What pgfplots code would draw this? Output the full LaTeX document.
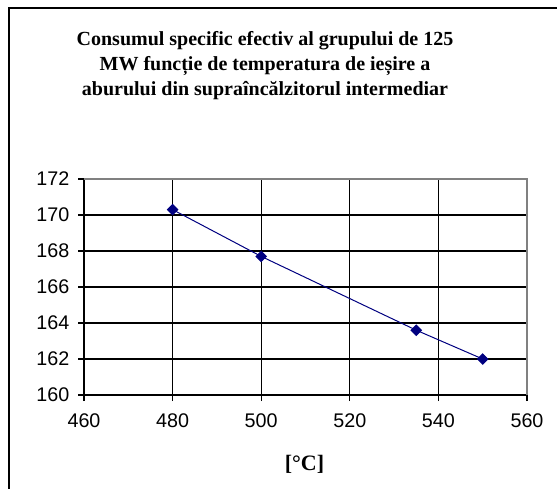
\documentclass[border=0pt]{standalone}
\usepackage{pgfplots}
\pgfplotsset{compat=1.18}
\usepackage{fontspec}
\setmainfont{Liberation Sans}
\newfontfamily\titlefont{Liberation Serif}
\newfontfamily\labelfont{Liberation Serif}
\definecolor{navy}{RGB}{0,0,128}
\begin{document}
\begin{tikzpicture}
\useasboundingbox (0,0) rectangle (417.75pt,-366.75pt);
\begin{scope}
\clip (0,0) rectangle (417.75pt,-366.75pt);
\draw[black, line width=0.9pt] (6.75pt,-6pt) rectangle (440pt,-390pt);
\end{scope}
\node[align=center, font=\titlefont\bfseries\fontsize{15}{18.75}\selectfont] at (198.75pt,-49.5pt)
{Consumul specific efectiv al grupului de 125\\MW funcție de temperatura de ieșire a\\aburului din supraîncălzitorul intermediar};
\begin{axis}[
  name=ax,
  at={(63pt,-296.25pt)}, anchor=south west,
  scale only axis,
  width=332.25pt, height=162pt,
  xmin=460, xmax=560, ymin=160, ymax=172,
  xtick={460,480,...,560},
  ytick={160,162,...,172},
  grid=major,
  major grid style={black, line width=1pt},
  axis line style={black, line width=1pt},
  tick pos=left,
  tick align=outside,
  major tick length=4.5pt,
  tick style={black, line width=1pt},
  /pgf/number format/assume math mode=true,
  /pgf/number format/.cd, 1000 sep={}, fixed,
  /pgfplots/.cd,
  ticklabel style={font=\fontsize{14.8}{16}\selectfont},
  yticklabel style={xshift=-3pt},
  xticklabel style={yshift=-6pt},
]
\addplot[navy, line width=0.75pt, mark=square*, mark size=2.7pt, mark options={fill=navy, draw=navy, rotate=45}]
coordinates {(480,170.3) (500,167.7) (535,163.6) (550,162.0)};
\end{axis}
\draw[gray, line width=1pt] (ax.north west) -- (ax.north east) -- (ax.south east);
\node[font=\labelfont\bfseries\fontsize{16.5}{18}\selectfont] at (228.4pt,-348pt) {[°C]};
\end{tikzpicture}
\end{document}
